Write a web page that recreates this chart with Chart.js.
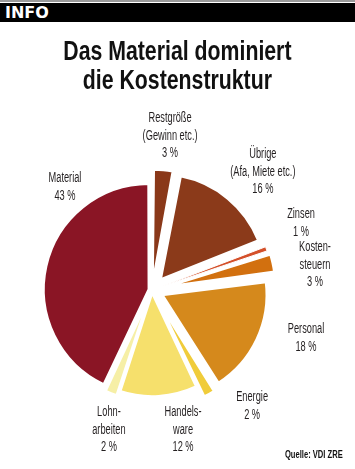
<!DOCTYPE html>
<html>
<head>
<meta charset="utf-8">
<script src="https://cdn.jsdelivr.net/npm/chart.js@4.4.1/dist/chart.umd.min.js"></script>
<style>
  html, body { margin:0; padding:0; background:#fff; }
  body { width:355px; height:469px; position:relative; overflow:hidden; }
  #topline { position:absolute; left:0; top:0; width:355px; height:2px; background:#9a9a9a; }
  #bar { position:absolute; left:0; top:3px; width:355px; height:19px; background:#000; }
  #bar span { position:absolute; left:5px; top:0px; font:bold 16px "DejaVu Sans", sans-serif; color:#fff; line-height:19px; }
  #title { position:absolute; left:0; top:37px; width:355px; text-align:center; font:bold 28px "Liberation Sans", sans-serif; color:#111; line-height:28.5px; transform:scaleX(0.76); transform-origin:177px 0; white-space:nowrap; }
  #src { position:absolute; right:12px; top:448px; font:bold 11px "Liberation Sans", sans-serif; color:#111; transform:scaleX(0.69); transform-origin:right top; white-space:nowrap; }
  #c { position:absolute; left:0; top:0; }
</style>
</head>
<body>
<canvas id="c" width="355" height="469"></canvas>
<div id="topline"></div>
<div id="bar"><span>INFO</span></div>
<div id="title">Das Material dominiert<br>die Kostenstruktur</div>
<div id="src">Quelle: VDI ZRE</div>
<script>
// ---- data ----
const categories = ['Restgröße (Gewinn etc.)', 'Übrige (Afa, Miete etc.)', 'Zinsen', 'Kostensteuern', 'Personal', 'Energie', 'Handelsware', 'Lohnarbeiten', 'Material'];
const labelLines = [['Restgröße', '(Gewinn etc.)'], ['Übrige', '(Afa, Miete etc.)'], ['Zinsen'], ['Kosten-', 'steuern'], ['Personal'], ['Energie'], ['Handels-', 'ware'], ['Lohn-', 'arbeiten'], ['Material']];
const shares = [3, 16, 1, 3, 18, 2, 12, 2, 43];

// ---- styling / layout ----
const colors = ['#8a3819', '#8b3a1a', '#d4502a', '#d2700f', '#d5891c', '#f0cc3a', '#f6e06c', '#f6efa6', '#8a1525'];
const offsets = [36, 52, 36, 44, 44, 32, 8, 16, 12];
const borders = [2, 3, 1, 3, 3, 3, 3, 3, 3];
const labelAngle = [6.7, 43.2, 65.8, 81.3, 107.3, 139.2, 167.5, 197.1, 319.8];
const labelDist = [155, 162, 163.4, 164.9, 161.3, 153.2, 143.4, 146.5, 134.8];

const labelPlugin = {
  id: 'sliceLabels',
  afterDatasetsDraw(chart) {
    const ctx = chart.ctx;
    const meta = chart.getDatasetMeta(0);
    const cx = meta.data[0].x, cy = meta.data[0].y;
    ctx.save();
    ctx.fillStyle = '#231f20';
    ctx.font = '14px "Liberation Sans", sans-serif';
    ctx.textAlign = 'center';
    ctx.textBaseline = 'middle';
    const lh = 17.5;
    shares.forEach((v, i) => {
      const lines = labelLines[i].concat([v + ' %']);
      const th = labelAngle[i] * Math.PI / 180;
      const px = cx + Math.sin(th) * labelDist[i];
      const py = cy - Math.cos(th) * labelDist[i];
      lines.forEach((ln, k) => {
        const y = py + (k - (lines.length - 1) / 2) * lh;
        ctx.save();
        ctx.translate(px, y);
        ctx.scale(0.66, 1);
        ctx.fillText(ln, 0, 0);
        ctx.restore();
      });
    });
    ctx.restore();
  }
};

new Chart(document.getElementById('c'), {
  type: 'pie',
  data: {
    labels: categories,
    datasets: [{
      data: shares,
      backgroundColor: colors,
      borderColor: '#ffffff',
      borderWidth: borders,
      offset: offsets,
      hoverOffset: 0
    }]
  },
  options: {
    responsive: false,
    animation: false,
    radius: 104,
    rotation: 0,
    layout: { padding: { left: 0, right: 51, top: 111, bottom: 0 } },
    plugins: { legend: { display: false }, tooltip: { enabled: false }, title: { display: false } },
    events: []
  },
  plugins: [labelPlugin]
});
</script>
</body>
</html>
